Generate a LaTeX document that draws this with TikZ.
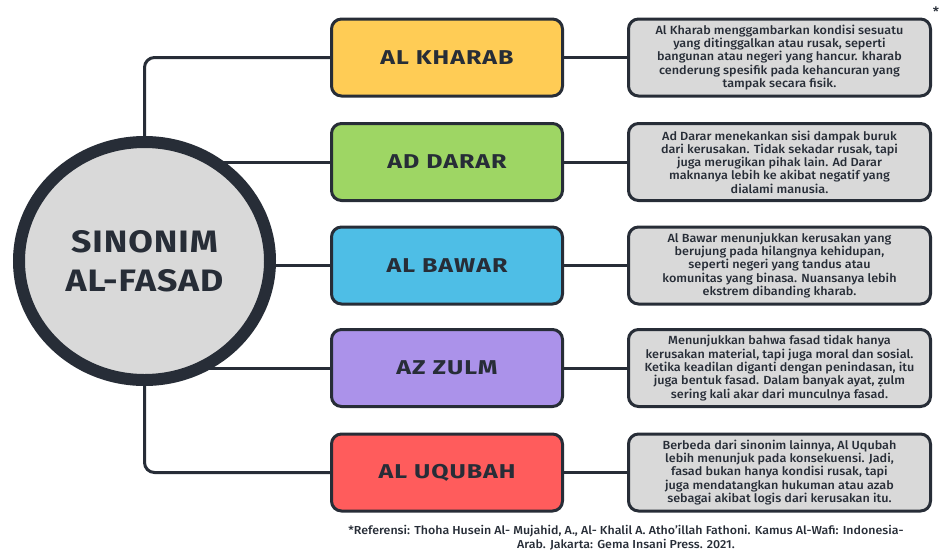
\documentclass[tikz,border=0pt]{standalone}
\usepackage{fontspec}
\setmainfont{Fira Sans}[UprightFont=* Medium, BoldFont=* Bold, FakeStretch=1.07]
\newfontfamily\titlefont{Fira Sans}[UprightFont=* Bold, FakeStretch=1.25, LetterSpace=5]
\newfontfamily\circfont{Fira Sans}[UprightFont=* Bold, FakeStretch=1.15, LetterSpace=3]
\usetikzlibrary{shapes.geometric,backgrounds}
\definecolor{ink}{HTML}{272D37}
\definecolor{cyel}{HTML}{FFCC55}
\definecolor{cgrn}{HTML}{9ED664}
\definecolor{cblu}{HTML}{4EBEE6}
\definecolor{cpur}{HTML}{AB92EA}
\definecolor{cred}{HTML}{FF5C5C}
\definecolor{cgry}{HTML}{D9D9D9}
\tikzset{
  termbox/.style={draw=ink, line width=3pt, rounded corners=10pt, minimum width=231pt, minimum height=77pt, inner sep=0pt, font=\titlefont\fontsize{20}{24}\selectfont, text=ink},
  descbox/.style={draw=ink, line width=3pt, rounded corners=10pt, fill=cgry, minimum width=302pt, minimum height=77pt, inner sep=0pt, align=center, font=\fontsize{11.8}{13.3}\selectfont, text=ink},
  link/.style={draw=ink, line width=3pt},
}
\begin{document}
\begin{tikzpicture}[x=1pt,y=-1pt]
\useasboundingbox (0,0) rectangle (939,552);
\node[ellipse, draw=ink, fill=cgry, line width=12pt, minimum width=251pt, minimum height=238pt, inner sep=0pt, align=center, text=ink, font=\circfont\fontsize{31}{39}\selectfont] (c) at (144.5,261) {SINONIM\\AL-FASAD};
\node[termbox, fill=cyel] (b1) at (447,57.5) {AL KHARAB};
\node[termbox, fill=cgrn] (b2) at (447,162) {AD DARAR};
\node[termbox, fill=cblu] (b3) at (447,265.5) {AL BAWAR};
\node[termbox, fill=cpur] (b4) at (447,368) {AZ ZULM};
\node[termbox, fill=cred] (b5) at (447,472.5) {AL UQUBAH};
\node[descbox] (d1) at (779.5,57.5) {Al Kharab menggambarkan kondisi sesuatu\\yang ditinggalkan atau rusak, seperti\\bangunan atau negeri yang hancur. kharab\\cenderung spesifik pada kehancuran yang\\tampak secara fisik.};
\node[descbox] (d2) at (779.5,162) {Ad Darar menekankan sisi dampak buruk\\dari kerusakan. Tidak sekadar rusak, tapi\\juga merugikan pihak lain. Ad Darar\\maknanya lebih ke akibat negatif yang\\dialami manusia.};
\node[descbox] (d3) at (779.5,265.5) {Al Bawar menunjukkan kerusakan yang\\berujung pada hilangnya kehidupan,\\seperti negeri yang tandus atau\\komunitas yang binasa. Nuansanya lebih\\ekstrem dibanding kharab.};
\node[descbox] (d4) at (779.5,368) {Menunjukkan bahwa fasad tidak hanya\\kerusakan material, tapi juga moral dan sosial.\\Ketika keadilan diganti dengan penindasan, itu\\juga bentuk fasad. Dalam banyak ayat, ẓulm\\sering kali akar dari munculnya fasad.};
\node[descbox] (d5) at (779.5,472.5) {Berbeda dari sinonim lainnya, Al Uqubah\\lebih menunjuk pada konsekuensi. Jadi,\\fasad bukan hanya kondisi rusak, tapi\\juga mendatangkan hukuman atau azab\\sebagai akibat logis dari kerusakan itu.};
\node[align=center, text=ink, font=\fontsize{11.6}{13.5}\selectfont, inner sep=0pt] (ref) at (626,538) {*Referensi: Thoha Husein Al- Mujahid, A., Al- Khalil A. Atho'illah Fathoni. Kamus Al-Wafi: Indonesia-\\Arab. Jakarta: Gema Insani Press. 2021.};
\node[text=ink, font=\fontsize{13}{13}\selectfont, inner sep=0pt, anchor=north] (star) at (936,7) {*};
\begin{scope}[on background layer]
\draw[link, rounded corners=10pt] (c.center) |- (b1.west);
\draw[link, rounded corners=10pt] (c.center) |- (b5.west);
\draw[link] (b2.west -| c.center) -- (b2.west);
\draw[link] (b3.west -| c.center) -- (b3.west);
\draw[link] (b4.west -| c.center) -- (b4.west);
\draw[link] (b1.east) -- (d1.west);
\draw[link] (b2.east) -- (d2.west);
\draw[link] (b3.east) -- (d3.west);
\draw[link] (b4.east) -- (d4.west);
\draw[link] (b5.east) -- (d5.west);
\end{scope}
\end{tikzpicture}
\end{document}
